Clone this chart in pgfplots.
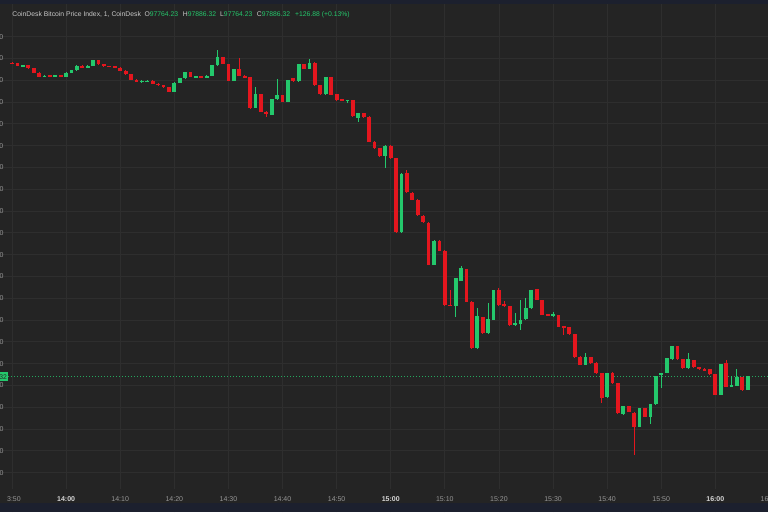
\documentclass[border=0pt]{standalone}
\usepackage{fontspec}
\setmainfont{Liberation Sans}
\usepackage{pgfplots}
\usepackage{pgfplotstable}
\pgfplotsset{compat=1.18}

\definecolor{bgc}{RGB}{36,36,36}
\definecolor{gridc}{RGB}{46,46,46}
\definecolor{bandc}{RGB}{28,32,46}
\definecolor{upc}{RGB}{36,200,108}
\definecolor{dnc}{RGB}{228,22,30}
\definecolor{labc}{RGB}{150,150,150}
\definecolor{hilab}{RGB}{215,215,215}
\definecolor{titc}{RGB}{200,200,200}

% 1-minute candles, t = minutes after 14:00
\pgfplotstableread{
t O H L C
-8 100728 100744 100724 100740
-4 100635 100646 100631 100642
-2 100641 100650 100637 100646
0 100633 100674 100629 100670
1 100670 100698 100666 100694
2 100694 100740 100690 100736
4 100719 100738 100715 100734
5 100734 100790 100730 100786
14 100582 100600 100578 100596
15 100593 100600 100589 100596
20 100495 100582 100491 100578
21 100578 100622 100574 100618
22 100618 100680 100614 100676
24 100630 100642 100626 100638
26 100627 100646 100623 100642
27 100642 100744 100638 100740
28 100740 100878 100736 100811
31 100596 100705 100592 100701
35 100346 100541 100342 100476
38 100286 100430 100282 100426
39 100426 100609 100422 100471
41 100404 100607 100400 100603
43 100593 100753 100589 100749
45 100704 100800 100700 100763
48 100471 100634 100467 100630
52 100412 100423 100392 100419
54 100251 100301 100220 100297
59 99905 100006 99795 100002
62 99208 99749 99204 99745
68 98910 99132 98906 99128
72 98529 98787 98431 98783
73 98761 98896 98757 98875
76 98141 98511 98137 98438
78 98279 98557 98275 98410
79 98401 98680 98397 98676
83 98355 98465 98351 98373
84 98364 98584 98309 98405
85 98407 98603 98403 98508
86 98508 98680 98504 98676
90 98438 98477 98434 98456
96 97988 98098 97984 98059
100 97692 97916 97688 97912
103 97538 97616 97534 97612
106 97422 97595 97418 97591
108 97508 97634 97447 97630
109 97630 97891 97626 97887
110 97905 97919 97777 97915
111 97917 98053 97913 98049
112 98040 98166 98036 98162
115 97958 98101 97954 98040
121 97713 98001 97709 97997
123 97789 97887 97785 97805
124 97795 97949 97791 97881
126 97764.23 97886.32 97764.23 97886.32
}\upbars

\pgfplotstableread{
t O H L C
-10 100763 100768 100752 100756
-9 100756 100760 100727 100731
-7 100740 100744 100706 100710
-6 100710 100714 100666 100670
-5 100670 100674 100631 100635
-3 100646 100650 100637 100641
-1 100646 100650 100629 100633
3 100736 100740 100715 100719
6 100784 100788 100743 100747
7 100747 100751 100723 100727
8 100731 100735 100724 100728
9 100731 100735 100713 100717
10 100717 100721 100686 100690
11 100690 100694 100654 100658
12 100658 100662 100603 100607
13 100607 100611 100583 100587
16 100596 100600 100567 100571
17 100571 100575 100550 100554
18 100554 100558 100532 100536
19 100538 100542 100491 100495
23 100676 100680 100631 100635
25 100638 100642 100626 100630
29 100811 100815 100745 100749
30 100749 100753 100592 100596
32 100701 100804 100638 100642
33 100642 100646 100623 100627
34 100627 100631 100339 100343
36 100474 100478 100308 100312
37 100312 100316 100263 100288
40 100465 100469 100400 100404
42 100618 100622 100589 100593
44 100749 100753 100700 100704
46 100763 100767 100553 100557
47 100557 100561 100467 100471
49 100627 100631 100466 100470
50 100471 100475 100415 100419
51 100426 100430 100408 100412
53 100419 100423 100268 100272
55 100297 100301 100255 100259
56 100266 100270 100033 100037
57 100037 100041 99972 99976
58 99976 99980 99901 99905
60 100002 100006 99880 99884
61 99884 99888 99204 99208
63 99749 99777 99567 99571
64 99571 99575 99502 99506
65 99506 99510 99360 99364
66 99360 99364 99296 99300
67 99295 99299 98901 98905
69 99128 99132 99033 99037
70 99037 99041 98534 98538
71 98538 98676 98530 98534
74 98866 98870 98565 98569
75 98569 98573 98137 98141
77 98426 98430 98275 98279
80 98676 98694 98534 98538
81 98548 98575 98525 98529
82 98529 98533 98351 98355
87 98682 98686 98580 98584
88 98584 98588 98443 98447
89 98456 98460 98434 98438
91 98447 98451 98335 98339
92 98346 98350 98263 98334
93 98334 98338 98268 98272
94 98272 98276 98055 98059
95 98064 98068 97984 97988
97 98059 98063 98000 98004
98 98009 98013 97908 97912
99 97912 97916 97637 97683
101 97917 97921 97816 97820
102 97820 97824 97541 97545
104 97612 97616 97556 97560
105 97550 97554 97162 97416
107 97591 97595 97510 97514
113 98162 98166 98036 98040
114 98040 98044 97954 97958
116 98034 98038 97963 97967
117 97967 97971 97947 97951
118 97956 97960 97934 97938
119 97949 97953 97901 97905
120 97905 97909 97709 97713
122 98004 98034 97785 97789
125 97875 97879 97755 97759
}\dnbars

\pgfplotsset{
  wick/.style={forget plot, draw=none, mark=none,
    error bars/.cd, y dir=both, y explicit, error mark=none,
    error bar style={draw=#1, line width=1pt}},
  body/.style={forget plot, draw=none, mark=none,
    error bars/.cd, y dir=both, y explicit, error mark=none,
    error bar style={draw=#1, line width=3.8pt}},
  % 5.41pt per minute; the axis runs a little past the right edge of the page
  frame/.style={
    at={(0,0)}, anchor=south west,
    scale only axis, width=769.7pt, height=512pt,
    xmin=-12.22, xmax=130.05,
    ymin=96639.4, ymax=101336.6,
    axis line style={draw=none},
    major tick length=0pt,
    xtick={-10,0,...,130},
    ytick={97000,97200,97400,97600,97800,98000,98200,98400,98600,98800,99000,
      99200,99400,99600,99800,100000,100200,100400,100600,100800,101000},
  },
}

\begin{document}
\begin{tikzpicture}
\useasboundingbox (0,0) rectangle (768pt,512pt);
% price pane
\begin{axis}[
    frame,
    axis background/.style={fill=bgc},
    grid=major,
    major grid style={draw=gridc, line width=0.8pt},
    xticklabels={},
    yticklabels={97000.00,97200.00,97400.00,97600.00,97800.00,98000.00,98200.00,
      98400.00,98600.00,98800.00,99000.00,99200.00,99400.00,99600.00,99800.00,
      100000.00,100200.00,100400.00,100600.00,100800.00,101000.00},
    yticklabel style={font=\fontsize{7}{8}\selectfont, text=labc, anchor=east, inner sep=0pt, xshift=3.6pt},
]
% time scale strip and window bands
\fill[bgc] (rel axis cs:0,0.017578) rectangle (rel axis cs:1,0.044922);
\fill[bandc] (rel axis cs:0,0) rectangle (rel axis cs:1,0.017578);
\fill[bandc] (rel axis cs:0,0.99121) rectangle (rel axis cs:1,1);

% last price line
\addplot[forget plot, upc!80!bgc, line width=0.7pt, dash pattern=on 1pt off 2pt] coordinates {(-10.74,97886.32) (130.05,97886.32)};

\addplot[wick=dnc] table[x=t, y expr={(\thisrow{H}+\thisrow{L})/2}, y error expr={(\thisrow{H}-\thisrow{L})/2}] {\dnbars};
\addplot[body=dnc] table[x=t, y expr={(\thisrow{O}+\thisrow{C})/2}, y error expr={abs(\thisrow{C}-\thisrow{O})/2}] {\dnbars};
\addplot[wick=upc] table[x=t, y expr={(\thisrow{H}+\thisrow{L})/2}, y error expr={(\thisrow{H}-\thisrow{L})/2}] {\upbars};
\addplot[body=upc] table[x=t, y expr={(\thisrow{O}+\thisrow{C})/2}, y error expr={abs(\thisrow{C}-\thisrow{O})/2}] {\upbars};
\end{axis}

% time scale labels
\begin{axis}[
    frame,
    yticklabels={},
    xticklabels={\hphantom{1}3:50, {\color{hilab}\textbf{14:00}}, 14:10, 14:20, 14:30, 14:40, 14:50,
      {\color{hilab}\textbf{15:00}}, 15:10, 15:20, 15:30, 15:40, 15:50,
      {\color{hilab}\textbf{16:00}}, 16:10},
    xticklabel style={font=\fontsize{7}{8}\selectfont, text=labc, anchor=center, inner sep=0pt, yshift=12.5pt},
]
\end{axis}

% price tag on the scale
\node[fill=upc, text=black!85, anchor=east, inner xsep=0.8pt, inner ysep=0pt, minimum height=8.5pt,
  font=\fontsize{6.8}{8}\selectfont] at (8pt,135.3pt) {97886.32};

% legend line
\begin{scope}[every node/.style={anchor=base west, inner sep=0pt, font=\fontsize{6.8}{8}\selectfont, text=titc}]
\node at (12.3pt,495.3pt) {CoinDesk Bitcoin Price Index, 1, CoinDesk};
\node at (144.3pt,495.3pt) {O\textcolor{upc}{97764.23}};
\node at (182.7pt,495.3pt) {H\textcolor{upc}{97886.32}};
\node at (220pt,495.3pt) {L\textcolor{upc}{97764.23}};
\node at (256.7pt,495.3pt) {C\textcolor{upc}{97886.32}};
\node[text=upc] at (295pt,495.3pt) {+126.88 (+0.13\%)};
\end{scope}
\end{tikzpicture}
\end{document}
